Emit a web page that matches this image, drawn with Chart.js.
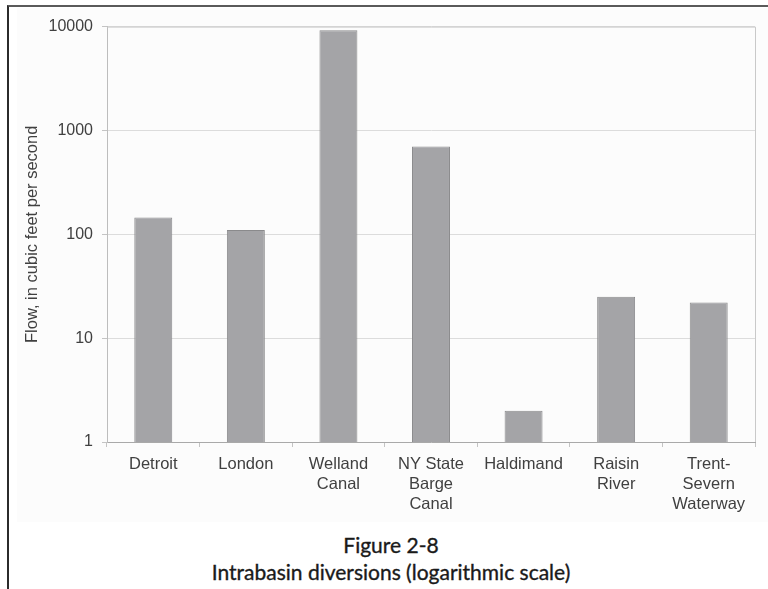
<!DOCTYPE html>
<html>
<head>
<meta charset="utf-8">
<script src="https://cdn.jsdelivr.net/npm/chart.js@4/dist/chart.umd.min.js"></script>
<style>
  html, body { margin: 0; padding: 0; background: #ffffff; }
  body { width: 768px; height: 589px; position: relative; overflow: hidden; }
  #frame {
    position: absolute; left: 7px; top: 5px; width: 761px; height: 584px;
    border-left: 2px solid #2b2b2b; border-top: 2px solid #5a5a5a; box-sizing: border-box;
  }
  #plotbox {
    position: absolute; left: 17px; top: 8px; width: 751px; height: 514px;
    background: #fcfcfc;
  }
  #plotbox canvas { display: block; filter: blur(0.4px); }
  #caption {
    position: absolute; left: 141px; width: 500px; top: 531px;
    text-align: center; font-family: Lato, "Noto Sans", sans-serif;
    font-weight: normal; font-size: 21px; line-height: 27px; color: #1a1a1a;
    -webkit-text-stroke: 0.35px #1a1a1a;
  }
</style>
</head>
<body>
<div id="frame"></div>
<div id="plotbox"><canvas id="chart" width="751" height="514"></canvas></div>
<div id="caption">Figure 2-8<br>Intrabasin diversions (logarithmic scale)</div>
<script>
// Diversion sites (multi-line labels as printed under each bar)
const categories = [
  ["Detroit"],
  ["London"],
  ["Welland", "Canal"],
  ["NY State", "Barge", "Canal"],
  ["Haldimand"],
  ["Raisin", "River"],
  ["Trent-", "Severn", "Waterway"]
];

// Flow, in cubic feet per second
const flowValues = [145, 110, 9200, 700, 2, 25, 22];

// Decade ticks on the logarithmic axis
const yTickValues = [1, 10, 100, 1000, 10000];

const fontFamily = "'Liberation Sans', Arial, sans-serif";
const textColor = '#404040';

// Draws the light frame on the top and right of the plot area
const plotFrame = {
  id: 'plotFrame',
  afterDraw(chart) {
    const { ctx, chartArea: a } = chart;
    ctx.save();
    ctx.strokeStyle = '#c9c9c9';
    ctx.lineWidth = 1;
    ctx.beginPath();
    ctx.moveTo(a.left, a.top + 0.5);
    ctx.lineTo(Math.round(a.right) + 0.5, a.top + 0.5);
    ctx.lineTo(Math.round(a.right) + 0.5, a.bottom);
    ctx.stroke();
    ctx.restore();
  }
};

new Chart(document.getElementById('chart'), {
  type: 'bar',
  data: {
    labels: categories,
    datasets: [{
      data: flowValues,
      backgroundColor: '#a4a4a7',
      borderColor: '#8a8a8c',
      borderWidth: 1,
      barPercentage: 0.41,
      categoryPercentage: 1.0
    }]
  },
  options: {
    responsive: false,
    devicePixelRatio: 1,
    animation: false,
    layout: { padding: { left: 0, top: 11, right: 13, bottom: 0 } },
    plugins: {
      legend: { display: false },
      tooltip: { enabled: false }
    },
    scales: {
      x: {
        offset: true,
        grid: {
          display: true,
          offset: true,
          drawOnChartArea: false,
          tickLength: 5,
          color: '#c4c4c4'
        },
        border: { display: true, color: '#a9a9a9', width: 1 },
        ticks: {
          color: textColor,
          font: { family: fontFamily, size: 16.5, lineHeight: 1.2 },
          padding: 8,
          maxRotation: 0,
          autoSkip: false
        },
        afterFit(scale) { scale.height = 80; }
      },
      y: {
        type: 'logarithmic',
        min: 1,
        max: 10000,
        afterBuildTicks(scale) {
          scale.ticks = yTickValues.map(v => ({ value: v }));
        },
        grid: {
          color: '#dcdcdc',
          tickLength: 5,
          tickColor: '#c4c4c4'
        },
        border: { display: true, color: '#bdbdbd', width: 1 },
        ticks: {
          color: textColor,
          font: { family: fontFamily, size: 16 },
          padding: 9,
          callback: (v) => String(v)
        },
        title: {
          display: true,
          text: 'Flow, in cubic feet per second',
          color: textColor,
          font: { family: fontFamily, size: 16.5, lineHeight: 1.2 },
          padding: { top: 6, bottom: 0 }
        },
        afterFit(scale) { scale.width = 90; }
      }
    }
  },
  plugins: [plotFrame]
});
</script>
</body>
</html>
